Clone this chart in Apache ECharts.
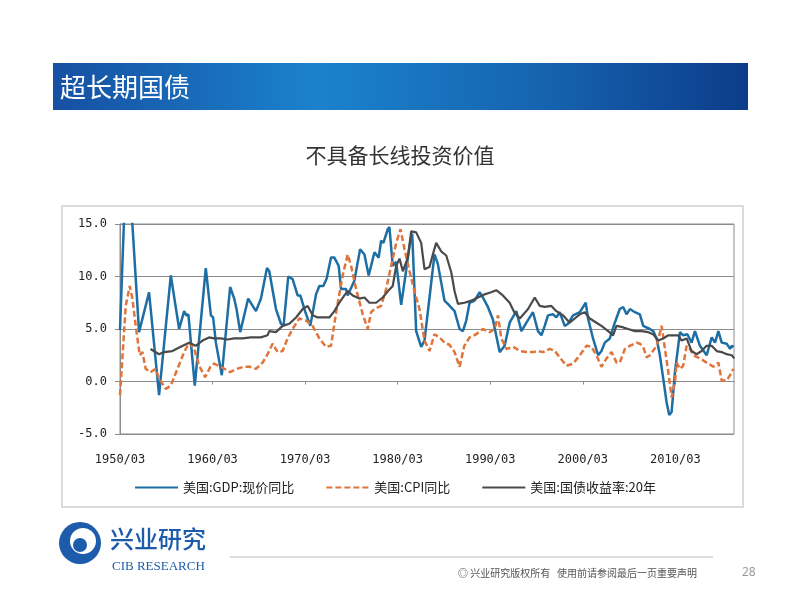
<!DOCTYPE html>
<html>
<head>
<meta charset="utf-8">
<title>超长期国债</title>
<script src="https://cdn.jsdelivr.net/npm/echarts@6/dist/echarts.min.js"></script>
<style>
html, body { margin: 0; padding: 0; background: #fff; }
#chart { width: 800px; height: 600px; }
</style>
</head>
<body>
<div id="chart"></div>
<script>
// 横轴用小数年份，1950 对应 1950/03；纵轴单位 %
const xTickYears = [1950, 1960, 1970, 1980, 1990, 2000, 2010];
const yTicks = [-5, 0, 5, 10, 15];
const seriesNames = ['美国:GDP:现价同比', '美国:CPI同比', '美国:国债收益率:20年'];

// 美国:GDP:现价同比
const gdpYears = [1950.0, 1950.45, 1950.9, 1951.3, 1952.06, 1953.14, 1954.22, 1955.49, 1956.39, 1956.93,
  1957.17, 1957.39, 1958.08, 1959.27, 1959.82, 1960.06, 1960.36, 1961.0, 1961.9, 1962.34,
  1962.59, 1962.99, 1963.85, 1964.69, 1965.23, 1965.88, 1966.13, 1966.85, 1967.39, 1967.67,
  1968.18, 1968.65, 1969.19, 1969.48, 1969.99, 1970.56, 1971.18, 1971.54, 1971.97, 1972.33,
  1972.8, 1973.16, 1973.63, 1973.89, 1974.43, 1974.6, 1975.32, 1975.94, 1976.41, 1976.87,
  1977.49, 1977.95, 1978.21, 1978.46, 1978.93, 1979.11, 1979.47, 1979.84, 1980.38, 1980.92,
  1981.28, 1981.57, 1982.0, 1982.18, 1982.54, 1982.9, 1983.44, 1983.98, 1984.34, 1985.06,
  1985.42, 1986.15, 1986.69, 1987.05, 1987.41, 1987.77, 1988.31, 1988.85, 1989.21, 1989.75,
  1990.29, 1991.02, 1991.56, 1992.1, 1992.82, 1993.37, 1993.91, 1994.62, 1995.16, 1995.53,
  1995.89, 1996.24, 1996.79, 1997.15, 1997.51, 1998.05, 1998.41, 1998.95, 1999.68, 2000.32,
  2000.57, 2001.11, 2001.66, 2002.02, 2002.38, 2002.92, 2003.46, 2004.0, 2004.36, 2004.73,
  2005.09, 2005.63, 2006.17, 2006.53, 2007.25, 2007.61, 2007.98, 2008.33, 2008.69, 2009.06,
  2009.34, 2009.6, 2009.96, 2010.5, 2010.85, 2011.3, 2011.76, 2012.12, 2012.66, 2013.39,
  2013.93, 2014.29, 2014.65, 2015.01, 2015.55, 2015.91, 2016.09, 2016.3];
const gdpValues = [4.9, 15.8, 17.0, 15.5, 4.7, 8.5, -1.3, 10.1, 5.0, 6.7,
  6.3, 6.4, -0.4, 10.8, 6.3, 6.1, 3.7, 0.6, 9.0, 7.9,
  6.9, 4.7, 7.9, 6.7, 7.9, 10.8, 10.5, 6.9, 5.5, 5.3,
  10.0, 9.75, 8.2, 8.2, 6.7, 5.3, 8.3, 9.1, 9.1, 9.8,
  11.8, 11.8, 11.0, 8.8, 8.8, 8.2, 9.6, 12.6, 12.1, 10.1,
  12.3, 11.8, 13.4, 13.2, 14.5, 14.7, 11.0, 11.4, 7.3, 10.6,
  12.9, 14.1, 4.8, 4.9, 3.3, 3.9, 8.0, 12.1, 11.2, 7.7,
  7.4, 6.7, 5.0, 4.8, 5.8, 7.5, 7.7, 8.5, 8.0, 7.1,
  5.9, 2.8, 3.4, 5.6, 6.7, 4.8, 5.6, 6.6, 4.8, 4.4,
  5.3, 6.3, 6.4, 6.1, 6.6, 5.3, 5.5, 6.3, 6.6, 7.5,
  6.0, 4.1, 2.5, 2.9, 3.7, 4.1, 5.6, 6.9, 7.1, 6.4,
  6.9, 6.6, 6.4, 5.3, 5.0, 4.8, 4.1, 2.5, 0.3, -2.0,
  -3.2, -2.9, 0.9, 4.7, 4.4, 4.5, 3.7, 4.8, 3.4, 2.5,
  4.2, 3.7, 4.8, 3.7, 3.6, 3.1, 3.4, 3.3];

// 美国:CPI同比
const cpiYears = [1950.0, 1950.62, 1951.05, 1951.34, 1951.7, 1952.13, 1952.42, 1952.78, 1953.32, 1953.86,
  1954.22, 1954.94, 1955.49, 1956.2, 1956.93, 1957.47, 1958.01, 1958.56, 1959.2, 1959.82,
  1960.17, 1960.9, 1961.9, 1962.63, 1963.35, 1964.0, 1964.69, 1965.41, 1965.95, 1966.49,
  1967.03, 1967.57, 1968.11, 1968.65, 1969.37, 1970.1, 1970.81, 1971.54, 1972.26, 1972.8,
  1973.41, 1974.06, 1974.6, 1974.97, 1975.51, 1976.23, 1976.77, 1977.13, 1977.49, 1978.21,
  1978.75, 1979.29, 1979.84, 1980.31, 1980.74, 1981.28, 1981.82, 1982.36, 1982.9, 1983.44,
  1983.98, 1984.52, 1985.06, 1985.6, 1986.15, 1986.69, 1987.2, 1987.77, 1988.49, 1989.2,
  1989.93, 1990.48, 1990.84, 1991.2, 1991.75, 1992.49, 1993.21, 1993.93, 1994.65, 1995.19,
  1995.73, 1996.45, 1996.99, 1997.51, 1998.24, 1998.96, 1999.68, 2000.4, 2000.94, 2001.48,
  2002.02, 2002.57, 2003.11, 2003.65, 2004.0, 2004.55, 2005.09, 2005.81, 2006.17, 2006.53,
  2006.9, 2007.25, 2007.98, 2008.52, 2008.88, 2009.24, 2009.6, 2009.96, 2010.14, 2010.5,
  2010.85, 2011.22, 2011.58, 2011.94, 2012.66, 2013.39, 2014.11, 2014.65, 2015.01, 2015.55,
  2015.91, 2016.27];
const cpiValues = [-1.3, 7.2, 9.1, 7.9, 5.3, 2.5, 2.8, 1.2, 0.9, 1.2,
  0.3, -0.7, -0.4, 1.2, 2.8, 3.7, 3.1, 1.5, 0.4, 1.5,
  1.7, 1.4, 0.9, 1.2, 1.4, 1.4, 1.2, 1.8, 2.6, 3.6,
  2.8, 2.9, 4.1, 5.0, 6.0, 5.8, 5.3, 4.1, 3.3, 3.4,
  6.9, 10.1, 12.1, 11.0, 8.8, 6.4, 5.0, 6.6, 6.9, 7.2,
  8.8, 11.0, 13.2, 14.5, 12.6, 10.5, 8.6, 6.9, 3.9, 2.9,
  4.5, 4.2, 3.7, 3.5, 2.8, 1.4, 3.4, 4.2, 4.5, 5.0,
  4.7, 5.0, 6.3, 4.1, 3.1, 3.3, 2.9, 2.8, 2.8, 2.9,
  2.8, 3.1, 2.9, 2.3, 1.5, 1.7, 2.5, 3.4, 3.3, 2.5,
  1.4, 2.2, 2.8, 1.8, 1.8, 3.1, 3.4, 3.7, 3.6, 3.3,
  2.3, 2.5, 3.4, 5.3, 3.1, 0.9, -1.5, -0.1, 1.8, 1.2,
  1.5, 3.4, 3.1, 2.5, 2.2, 1.8, 1.4, 1.8, 0.1, 0.1,
  0.6, 1.2];

// 美国:国债收益率:20年
const bondYears = [1953.3, 1954.22, 1954.76, 1955.66, 1956.56, 1957.46, 1958.19, 1958.91, 1959.63, 1960.17,
  1960.9, 1961.62, 1962.34, 1963.24, 1964.13, 1965.22, 1965.94, 1966.13, 1966.85, 1967.57,
  1968.29, 1969.02, 1969.74, 1970.28, 1970.82, 1971.36, 1971.9, 1972.62, 1973.16, 1973.7,
  1974.24, 1974.6, 1975.14, 1975.86, 1976.41, 1976.95, 1977.67, 1978.39, 1978.93, 1979.47,
  1979.84, 1980.2, 1980.56, 1981.1, 1981.46, 1982.0, 1982.54, 1982.9, 1983.44, 1983.8,
  1984.16, 1984.7, 1985.25, 1985.79, 1986.15, 1986.51, 1987.23, 1987.95, 1988.67, 1989.39,
  1990.1, 1990.65, 1991.37, 1992.1, 1992.6, 1993.2, 1994.09, 1994.81, 1995.35, 1995.89,
  1996.61, 1997.15, 1997.87, 1998.59, 1999.13, 1999.68, 2000.22, 2000.76, 2001.48, 2002.02,
  2002.74, 2003.28, 2003.64, 2004.18, 2004.9, 2005.63, 2006.35, 2007.07, 2007.61, 2008.15,
  2008.69, 2009.24, 2009.78, 2010.32, 2010.68, 2011.22, 2011.76, 2012.3, 2012.84, 2013.38,
  2013.93, 2014.47, 2015.01, 2015.55, 2016.09, 2016.37];
const bondValues = [3.1, 2.6, 2.8, 2.9, 3.3, 3.7, 3.4, 3.9, 4.2, 4.1,
  4.1, 4.0, 4.1, 4.1, 4.2, 4.2, 4.4, 4.8, 4.7, 5.3,
  5.5, 6.1, 6.9, 7.2, 6.3, 6.1, 6.1, 6.1, 6.7, 7.5,
  8.2, 8.6, 8.2, 7.9, 8.0, 7.5, 7.5, 8.0, 8.6, 9.1,
  11.0, 11.7, 10.5, 11.8, 14.3, 14.2, 13.2, 10.7, 10.9, 12.1,
  13.2, 12.4, 12.0, 10.4, 8.6, 7.4, 7.5, 7.7, 8.0, 8.3,
  8.5, 8.7, 8.2, 7.5, 6.6, 6.0, 6.9, 8.0, 7.2, 7.1,
  7.2, 6.7, 6.3, 5.6, 6.0, 6.4, 6.6, 6.0, 5.6, 5.3,
  4.8, 4.4, 5.3, 5.2, 5.0, 4.8, 4.8, 4.7, 4.5, 3.9,
  4.1, 4.4, 4.4, 4.4, 3.9, 4.1, 2.9, 2.6, 2.9, 3.4,
  3.4, 2.9, 2.8, 2.6, 2.5, 2.2];

function zip(xs, ys) {
  return xs.map((x, i) => [x, ys[i]]);
}

const axisFont = 'DejaVu Sans Mono';
const cjkFont = 'Noto Sans CJK SC';
const gridColor = '#8c8c8c';

const chart = echarts.init(document.getElementById('chart'));

const option = {
  animation: false,
  backgroundColor: '#fff',
  grid: {
    left: 120, right: 66, top: 224, bottom: 166,
    show: true, borderColor: gridColor, borderWidth: 1, backgroundColor: '#fff'
  },
  legend: {
    left: 129, top: 476,
    itemWidth: 43, itemHeight: 14, itemGap: 31,
    itemStyle: { opacity: 0 },
    textStyle: { fontFamily: cjkFont, fontSize: 13, color: '#222' },
    data: seriesNames
  },
  xAxis: {
    // 轴线落在 0 上，标签仍在底部
    type: 'value', min: xTickYears[0], max: 2016.34, interval: 10,
    axisLine: { show: true, onZero: true, lineStyle: { color: gridColor } },
    axisTick: { show: true, length: 3, lineStyle: { color: gridColor } },
    splitLine: { show: false },
    axisLabel: {
      margin: 20, fontFamily: axisFont, fontSize: 12, color: '#222', showMaxLabel: false,
      formatter: v => (xTickYears.indexOf(v) >= 0 ? v + '/03' : '')
    }
  },
  yAxis: {
    type: 'value', min: yTicks[0], max: yTicks[yTicks.length - 1], interval: 5,
    axisLine: { show: true, lineStyle: { color: gridColor } },
    axisTick: { show: true, length: 5, lineStyle: { color: gridColor } },
    splitLine: { lineStyle: { color: gridColor, width: 1 } },
    axisLabel: {
      margin: 13, fontFamily: axisFont, fontSize: 12, color: '#222',
      formatter: v => v.toFixed(1)
    }
  },
  series: [
    {
      name: seriesNames[0], type: 'line', symbol: 'none', clip: true,
      data: zip(gdpYears, gdpValues),
      itemStyle: { color: '#1c6ea4' },
      lineStyle: { color: '#1c6ea4', width: 2.5 }
    },
    {
      name: seriesNames[1], type: 'line', symbol: 'none', clip: true,
      data: zip(cpiYears, cpiValues),
      itemStyle: { color: '#e0743a' },
      lineStyle: { color: '#e0743a', width: 2.5, type: [6, 3] }
    },
    {
      name: seriesNames[2], type: 'line', symbol: 'none', clip: true,
      data: zip(bondYears, bondValues),
      itemStyle: { color: '#4a4a4a' },
      lineStyle: { color: '#4a4a4a', width: 2.2 }
    }
  ],
  graphic: [
    // 标题栏
    {
      type: 'rect', z: 1, silent: true,
      shape: { x: 53, y: 63, width: 695, height: 47 },
      style: {
        fill: new echarts.graphic.LinearGradient(0, 0, 1, 0, [
          { offset: 0, color: '#1650a2' },
          { offset: 0.38, color: '#1b82cc' },
          { offset: 0.7, color: '#1664b0' },
          { offset: 1, color: '#0c3c8a' }
        ])
      }
    },
    {
      type: 'text', z: 2, silent: true, x: 60, y: 87,
      style: { text: '超长期国债', fill: '#fff', font: '26px "Noto Sans CJK SC"', textVerticalAlign: 'middle' }
    },
    {
      type: 'text', z: 2, silent: true, x: 400, y: 155,
      style: { text: '不具备长线投资价值', fill: '#333', font: '21px "Noto Sans CJK SC"', textAlign: 'center', textVerticalAlign: 'middle' }
    },
    // 图表外框
    {
      type: 'rect', z: -1, silent: true,
      shape: { x: 62, y: 206, width: 681, height: 301 },
      style: { fill: 'none', stroke: '#cfcfcf', lineWidth: 1.5 }
    },
    // 页脚 logo
    {
      type: 'circle', z: 2, silent: true,
      shape: { cx: 80, cy: 543, r: 21 }, style: { fill: '#1d5bab' }
    },
    {
      type: 'circle', z: 3, silent: true,
      shape: { cx: 83, cy: 541, r: 13 }, style: { fill: '#fff' }
    },
    {
      type: 'circle', z: 4, silent: true,
      shape: { cx: 80, cy: 545, r: 7 }, style: { fill: '#1d5bab' }
    },
    {
      type: 'text', z: 2, silent: true, x: 110, y: 539,
      style: { text: '兴业研究', fill: '#1d5bab', font: '500 24px "Noto Sans CJK SC"', textVerticalAlign: 'middle' }
    },
    {
      type: 'text', z: 2, silent: true, x: 112, y: 567,
      style: { text: 'CIB RESEARCH', fill: '#1d5bab', font: '13px "Liberation Serif"', textVerticalAlign: 'middle' }
    },
    {
      type: 'line', z: 2, silent: true,
      shape: { x1: 230, y1: 557, x2: 713, y2: 557 },
      style: { stroke: '#bdbdbd', lineWidth: 1 }
    },
    {
      type: 'text', z: 2, silent: true, x: 458, y: 573,
      style: { text: '◎ 兴业研究版权所有   使用前请参阅最后一页重要声明', fill: '#555', font: '10px "Noto Sans CJK SC"', textVerticalAlign: 'middle' }
    },
    {
      type: 'text', z: 2, silent: true, x: 742, y: 573,
      style: { text: '28', fill: '#999', font: '12px "Noto Sans"', textVerticalAlign: 'middle' }
    }
  ]
};

chart.setOption(option);
</script>
</body>
</html>
